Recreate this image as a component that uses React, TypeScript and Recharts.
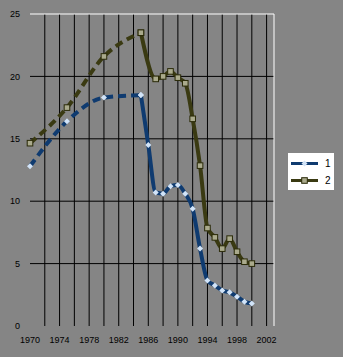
import React from 'react';
import { LineChart, Line, XAxis, YAxis, ReferenceLine, Legend } from 'recharts';

// Yearly values; the years up to 1985 are only known every five years
const years = [1970, 1975, 1980, 1985, 1986, 1987, 1988, 1989, 1990, 1991, 1992, 1993, 1994, 1995, 1996, 1997, 1998, 1999, 2000];
const series1 = [12.8, 16.4, 18.3, 18.5, 14.5, 10.7, 10.6, 11.2, 11.3, 10.6, 9.4, 6.2, 3.65, 3.25, 2.85, 2.7, 2.35, 1.95, 1.8];
const series2 = [14.65, 17.5, 21.6, 23.5, null, 19.8, 20.0, 20.4, 19.9, 19.45, 16.6, 12.85, 7.85, 7.1, 6.2, 7.0, 5.95, 5.15, 5.0];
const seriesNames = ['1', '2'];

const estimatedUntil = 1985;
const xTicks = [1970, 1974, 1978, 1982, 1986, 1990, 1994, 1998, 2002];
const yTicks = [0, 5, 10, 15, 20, 25];
const gridYears = [1972, 1974, 1976, 1978, 1980, 1982, 1984, 1986, 1988, 1990, 1992, 1994, 1996, 1998, 2000, 2002];
const gridValues = [5, 10, 15, 20];

const BG = '#858585';
const BLUE = '#0f3b70';
const OLIVE = '#3a3a12';
const DIAMOND_FILL = '#d2e4f8';
const SQUARE_FILL = '#aaaa8c';

const rows = years.map((year, i) => ({
  year,
  s1Dash: year <= estimatedUntil ? series1[i] : null,
  s1: year >= estimatedUntil ? series1[i] : null,
  s2Dash: year <= estimatedUntil ? series2[i] : null,
  s2: year >= estimatedUntil ? series2[i] : null,
}));

const Diamond = (props: any) => {
  const { cx, cy, index } = props;
  if (cx == null || cy == null || Number.isNaN(cy)) return <g key={`d-${index}`} />;
  const r = 3;
  return (
    <path
      key={`d-${index}`}
      d={`M${cx},${cy - r} L${cx + r},${cy} L${cx},${cy + r} L${cx - r},${cy} Z`}
      fill={DIAMOND_FILL}
      stroke="none"
    />
  );
};

const Square = (props: any) => {
  const { cx, cy, index } = props;
  if (cx == null || cy == null || Number.isNaN(cy)) return <g key={`s-${index}`} />;
  const r = 2.8;
  return (
    <rect
      key={`s-${index}`}
      x={cx - r}
      y={cy - r}
      width={r * 2}
      height={r * 2}
      fill={SQUARE_FILL}
      stroke="#2a2a08"
      strokeWidth={1}
    />
  );
};

const LegendBox = () => (
  <div style={{ background: '#ffffff', width: 46, height: 37, position: 'relative', fontFamily: 'Liberation Sans, Arial, sans-serif', fontSize: 10 }}>
    <svg width={46} height={37} style={{ position: 'absolute', left: 0, top: 0 }}>
      <line x1={3} x2={30} y1={10.5} y2={10.5} stroke={BLUE} strokeWidth={3} />
      <path d="M16.5,7.5 L19.5,10.5 L16.5,13.5 L13.5,10.5 Z" fill={DIAMOND_FILL} />
      <text x={37} y={14} fontSize={10} fill="#000">{seriesNames[0]}</text>
      <line x1={3} x2={30} y1={27.5} y2={27.5} stroke={OLIVE} strokeWidth={3} />
      <rect x={13.7} y={24.7} width={5.6} height={5.6} fill={SQUARE_FILL} stroke="#2a2a08" strokeWidth={1} />
      <text x={37} y={31} fontSize={10} fill="#000">{seriesNames[1]}</text>
    </svg>
  </div>
);

export default function App() {
  return (
    <div style={{ position: 'absolute', left: 0, top: 0, width: 343, height: 357, background: BG }}>
      <LineChart
        width={343}
        height={357}
        data={rows}
        margin={{ top: 14, right: 69, left: 0, bottom: 0 }}
        style={{ background: BG }}
      >
        <XAxis
          dataKey="year"
          type="number"
          domain={[1970, 2003]}
          ticks={xTicks}
          interval={0}
          axisLine={false}
          tickLine={false}
          tickSize={0}
          tickMargin={11}
          height={31}
          tick={{ fill: '#000', fontSize: 9, fontFamily: 'Liberation Sans, Arial, sans-serif' }}
        />
        <YAxis
          type="number"
          domain={[0, 25]}
          ticks={yTicks}
          interval={0}
          axisLine={false}
          tickLine={false}
          tickSize={0}
          tickMargin={10}
          width={30}
          tick={{ fill: '#000', fontSize: 9, fontFamily: 'Liberation Sans, Arial, sans-serif' }}
        />
        {gridYears.map((yr) => (
          <ReferenceLine key={`gx-${yr}`} x={yr} stroke="#000" strokeWidth={1} />
        ))}
        {gridValues.map((v) => (
          <ReferenceLine key={`gy-${v}`} y={v} stroke="#000" strokeWidth={1} />
        ))}
        <ReferenceLine y={25} stroke="#ffffff" strokeWidth={1} />
        <ReferenceLine x={2003} stroke="#ffffff" strokeWidth={1} />
        <Line dataKey="s2Dash" type="monotone" stroke={OLIVE} strokeWidth={4} strokeDasharray="8 5" connectNulls dot={Square} activeDot={false} isAnimationActive={false} legendType="none" />
        <Line dataKey="s2" type="monotone" stroke={OLIVE} strokeWidth={4} connectNulls dot={Square} activeDot={false} isAnimationActive={false} name={seriesNames[1]} />
        <Line dataKey="s1Dash" type="monotone" stroke={BLUE} strokeWidth={4} strokeDasharray="8 5" connectNulls dot={Diamond} activeDot={false} isAnimationActive={false} legendType="none" />
        <Line dataKey="s1" type="monotone" stroke={BLUE} strokeWidth={4} connectNulls dot={Diamond} activeDot={false} isAnimationActive={false} name={seriesNames[0]} />
        <Legend
          layout="horizontal"
          verticalAlign="middle"
          align="center"
          content={() => <LegendBox />}
          wrapperStyle={{ position: 'absolute', left: 288, top: 153, width: 46, height: 37 }}
        />
      </LineChart>
    </div>
  );
}
